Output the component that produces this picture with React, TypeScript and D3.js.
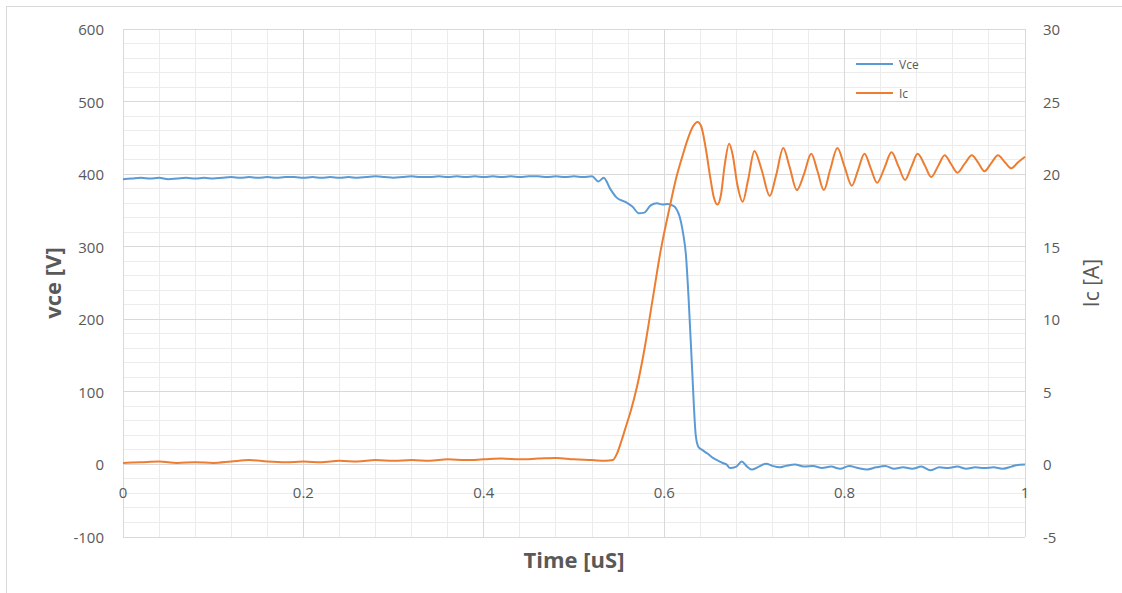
import React from "react";
import * as d3 from "d3";

// time [uS], vce [V]
const vceData: [number, number][] = [
  [0, 393], [0.01, 394], [0.02, 395], [0.03, 394], [0.04, 395], [0.05, 393], [0.06, 394], [0.07, 395],
  [0.08, 394], [0.09, 395], [0.1, 394], [0.11, 395], [0.12, 396], [0.13, 395], [0.14, 396], [0.15, 395],
  [0.16, 396], [0.17, 395], [0.18, 396], [0.19, 396], [0.2, 395], [0.21, 396], [0.22, 395], [0.23, 396],
  [0.24, 395], [0.25, 396], [0.26, 395], [0.27, 396], [0.28, 397], [0.29, 396], [0.3, 395], [0.31, 396],
  [0.32, 397], [0.33, 396], [0.34, 396], [0.35, 397], [0.36, 396], [0.37, 397], [0.38, 396], [0.39, 397],
  [0.4, 396], [0.41, 397], [0.42, 396], [0.43, 397], [0.44, 396], [0.45, 397], [0.46, 397], [0.47, 396],
  [0.48, 397], [0.49, 396], [0.5, 397], [0.51, 396], [0.52, 397], [0.527, 390], [0.533, 395], [0.54, 380],
  [0.547, 368], [0.558, 361], [0.565, 355], [0.572, 346], [0.578, 347], [0.585, 357], [0.592, 360],
  [0.598, 358], [0.604, 359], [0.609, 357], [0.613, 353], [0.617, 342], [0.621, 318], [0.624, 290],
  [0.627, 230], [0.631, 130], [0.635, 40], [0.638, 24], [0.642, 20], [0.648, 15], [0.654, 9], [0.66, 5],
  [0.665, 2], [0.669, 0], [0.673, -5], [0.68, -3], [0.686, 4], [0.691, -2], [0.697, -7], [0.705, -3],
  [0.713, 1], [0.72, -2], [0.728, -4], [0.735, -2], [0.745, 0], [0.755, -3], [0.765, -2], [0.775, -5],
  [0.785, -3], [0.795, -6], [0.805, -2], [0.815, -5], [0.825, -7], [0.835, -4], [0.845, -2], [0.855, -6],
  [0.865, -4], [0.875, -6], [0.885, -3], [0.895, -8], [0.905, -4], [0.915, -5], [0.925, -3], [0.935, -6],
  [0.945, -4], [0.955, -5], [0.965, -4], [0.975, -6], [0.985, -3], [0.99, -1], [1.0, 0],
];

// time [uS], Ic [A]
const icData: [number, number][] = [
  [0, 0.1], [0.02, 0.15], [0.04, 0.2], [0.06, 0.1], [0.08, 0.15], [0.1, 0.1], [0.12, 0.2], [0.14, 0.3],
  [0.16, 0.2], [0.18, 0.15], [0.2, 0.2], [0.22, 0.15], [0.24, 0.25], [0.26, 0.2], [0.28, 0.3], [0.3, 0.25],
  [0.32, 0.3], [0.34, 0.25], [0.36, 0.35], [0.38, 0.3], [0.4, 0.35], [0.42, 0.4], [0.44, 0.35], [0.46, 0.4],
  [0.48, 0.45], [0.5, 0.35], [0.52, 0.3], [0.535, 0.25], [0.543, 0.3], [0.548, 0.8], [0.553, 1.7],
  [0.558, 2.7], [0.563, 3.7], [0.57, 5.4], [0.578, 7.9], [0.587, 11.3], [0.596, 14.7], [0.606, 17.7],
  [0.614, 19.9], [0.62, 21.2], [0.626, 22.4], [0.632, 23.3], [0.637, 23.6], [0.641, 23.3], [0.646, 21.8],
  [0.651, 19.8], [0.655, 18.4], [0.659, 17.9], [0.663, 18.6], [0.667, 20.6], [0.672, 22.1], [0.676, 21.3],
  [0.681, 19.3], [0.687, 18.1], [0.693, 19.6], [0.7, 21.6], [0.708, 20.3], [0.717, 18.5], [0.724, 19.9],
  [0.732, 21.8], [0.739, 20.5], [0.747, 18.9], [0.755, 20.0], [0.763, 21.4], [0.77, 20.2], [0.777, 18.9],
  [0.784, 20.3], [0.792, 21.8], [0.8, 20.5], [0.808, 19.2], [0.815, 20.3], [0.822, 21.4], [0.829, 20.4],
  [0.836, 19.4], [0.844, 20.4], [0.852, 21.5], [0.86, 20.5], [0.867, 19.6], [0.874, 20.5], [0.881, 21.4],
  [0.889, 20.6], [0.896, 19.8], [0.904, 20.6], [0.911, 21.3], [0.918, 20.7], [0.925, 20.1], [0.933, 20.7],
  [0.941, 21.3], [0.948, 20.8], [0.955, 20.2], [0.963, 20.8], [0.97, 21.3], [0.978, 20.8], [0.985, 20.4],
  [0.992, 20.8], [1.0, 21.2],
];

const xTicks = [0, 0.2, 0.4, 0.6, 0.8, 1];
const vceTicks = [-100, 0, 100, 200, 300, 400, 500, 600];
const icTicks = [-5, 0, 5, 10, 15, 20, 25, 30];
const seriesNames = ["Vce", "Ic"];
const seriesColors = ["#5B9BD5", "#ED7D31"];

const W = 1122;
const H = 593;
const m = { left: 123, right: 1025, top: 29, bottom: 537 };
const font = "'Open Sans', 'Liberation Sans', sans-serif";
const grey = "#595959";

export default function App() {
  const x = d3.scaleLinear().domain([0, 1]).range([m.left, m.right]);
  const yV = d3.scaleLinear().domain([-100, 600]).range([m.bottom, m.top]);
  const yI = d3.scaleLinear().domain([-5, 30]).range([m.bottom, m.top]);

  const vLine = d3.line<[number, number]>().x(d => x(d[0])).y(d => yV(d[1])).curve(d3.curveMonotoneX);
  const iLine = d3.line<[number, number]>().x(d => x(d[0])).y(d => yI(d[1])).curve(d3.curveMonotoneX);

  // minor grid: every 0.04 on x, every 20 V on y
  const xMinor = d3.range(0, 1.0001, 0.04).map(v => +v.toFixed(2));
  const yMinor = d3.range(-100, 600.001, 20);

  return (
    <svg width={W} height={H} style={{ position: "absolute", left: 0, top: 0, background: "#fff" }}>
      <rect x={6.5} y={6.5} width={1140} height={620} fill="#fff" stroke="#d9d9d9" />

      {/* gridlines */}
      <g shapeRendering="crispEdges">
        {xMinor.map((v, i) => (
          <line key={"xm" + i} x1={x(v)} x2={x(v)} y1={m.top} y2={m.bottom} stroke="#ececec" />
        ))}
        {yMinor.map((v, i) => (
          <line key={"ym" + i} x1={m.left} x2={m.right} y1={yV(v)} y2={yV(v)} stroke="#ececec" />
        ))}
        {xTicks.map((v, i) => (
          <line key={"xM" + i} x1={x(v)} x2={x(v)} y1={m.top} y2={m.bottom} stroke="#d9d9d9" />
        ))}
        {vceTicks.map((v, i) => (
          <line key={"yM" + i} x1={m.left} x2={m.right} y1={yV(v)} y2={yV(v)} stroke="#d9d9d9" />
        ))}
      </g>

      {/* tick labels */}
      <g fontFamily={font} fontSize={15} fill={grey}>
        {vceTicks.map(v => (
          <text key={"l" + v} x={104} y={yV(v)} textAnchor="end" dominantBaseline="central">{v}</text>
        ))}
        {icTicks.map(v => (
          <text key={"r" + v} x={1043} y={yI(v)} textAnchor="start" dominantBaseline="central">{v}</text>
        ))}
        {xTicks.map(v => (
          <text key={"b" + v} x={x(v)} y={yV(0) + 28} textAnchor="middle" dominantBaseline="central">{v}</text>
        ))}
      </g>

      {/* series */}
      <path d={vLine(vceData) ?? ""} fill="none" stroke={seriesColors[0]} strokeWidth={2} strokeLinejoin="round" />
      <path d={iLine(icData) ?? ""} fill="none" stroke={seriesColors[1]} strokeWidth={2} strokeLinejoin="round" />

      {/* axis titles */}
      <text transform={`translate(52,${(m.top + m.bottom) / 2}) rotate(-90)`} textAnchor="middle"
        dominantBaseline="central" fontFamily={font} fontSize={22} fontWeight="bold" fill={grey}>vce [V]</text>
      <text transform={`translate(1091,${(m.top + m.bottom) / 2}) rotate(-90)`} textAnchor="middle"
        dominantBaseline="central" fontFamily={font} fontSize={21} fill={grey}>Ic [A]</text>
      <text x={574} y={559} textAnchor="middle" dominantBaseline="central"
        fontFamily={font} fontSize={22} fontWeight="bold" fill={grey}>Time [uS]</text>

      {/* legend */}
      <g fontFamily={font} fontSize={12} fill={grey}>
        {seriesNames.map((s, i) => (
          <g key={s} transform={`translate(856,${64 + i * 29})`}>
            <line x1={0} x2={37} y1={0} y2={0} stroke={seriesColors[i]} strokeWidth={2} />
            <text x={43} y={0} dominantBaseline="central">{s}</text>
          </g>
        ))}
      </g>
    </svg>
  );
}
